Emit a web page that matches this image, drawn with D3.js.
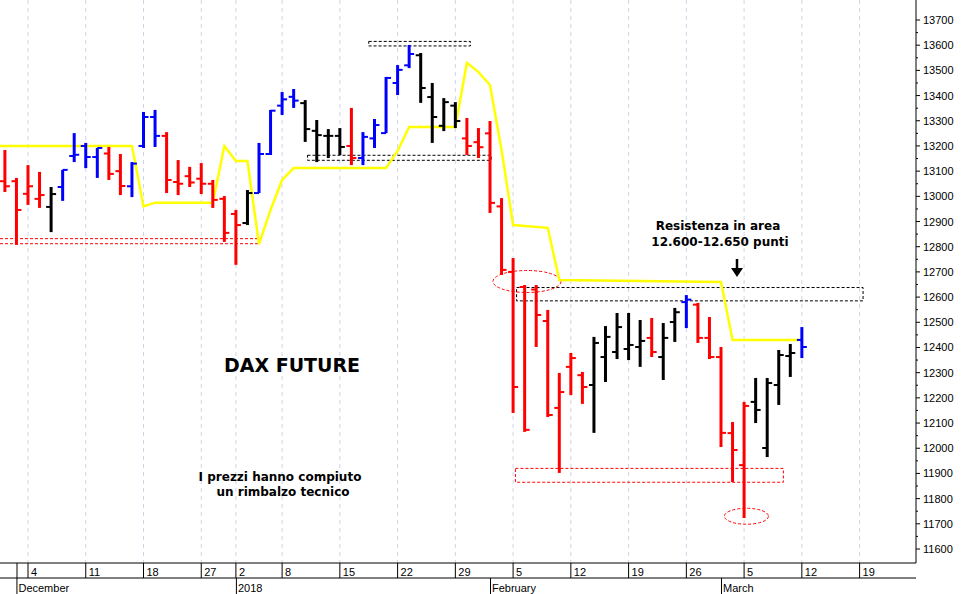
<!DOCTYPE html>
<html><head><meta charset="utf-8">
<script src="https://cdn.jsdelivr.net/npm/d3@7"></script>
<style>body{margin:0;background:#fff}svg{display:block}</style>
</head><body>
<svg id="c" width="966" height="594"></svg>
<script>
// trading day index (0 = Dec 4)
const idx   = [-2,-1,0,1,2,3,4,5,6,7,8,9,10,11,12,13,14,15,16,17,18,19,20,21,22,23,24,25,26,27,28,29,30,31,32,33,34,35,36,37,38,39,40,41,42,43,44,45,46,47,48,49,50,51,52,53,54,55,56,57,58,59,60,61,62,63,64,65,66,67];
const highs = [13184,13073,13124,13097,13037,13105,13251,13212,13192,13196,13168,13136,13335,13343,13255,13144,13117,13132,13065,13001,12946,13025,13212,13343,13414,13426,13382,13303,13267,13271,13351,13255,13307,13474,13521,13601,13569,13450,13390,13374,13311,13271,13299,12993,12755,12648,12648,12549,12299,12378,12303,12442,12485,12537,12537,12509,12517,12497,12557,12608,12577,12521,12402,12104,12184,12279,12279,12390,12414,12481];
const lows  = [13017,12807,12966,12954,12858,12982,13136,13112,13073,13065,13005,12997,13192,13196,13013,13005,13037,13009,12954,12819,12728,12886,13013,13164,13323,13351,13216,13136,13152,13164,13124,13124,13192,13251,13402,13509,13371,13212,13259,13271,13164,13152,12934,12688,12140,12065,12402,12124,11902,12211,12176,12061,12263,12354,12350,12323,12362,12271,12422,12477,12418,12354,12005,11866,11723,12100,11965,12172,12283,12358];
const opens = [13060,13060,13010,12990,12958,13037,13160,13200,13156,13170,13100,13040,13200,13315,13240,13057,13080,13070,13050,12990,12930,12894,13013,13168,13360,13395,13370,13260,13240,13240,13200,13152,13230,13251,13450,13520,13560,13394,13280,13360,13230,13215,13250,12960,12700,12640,12630,12505,12160,12323,12290,12251,12362,12382,12394,12402,12438,12362,12501,12580,12570,12438,12362,12060,11933,12184,12001,12251,12366,12430];
const closes= [13040,12946,13040,13005,13009,13105,13165,13156,13192,13089,13041,13130,13315,13240,13065,13050,13055,13050,12986,12855,12886,13013,13168,13340,13385,13380,13267,13243,13240,13196,13152,13236,13283,13470,13502,13565,13430,13315,13374,13299,13200,13195,12974,12708,12243,12073,12529,12132,12223,12358,12243,12418,12442,12481,12410,12426,12382,12438,12540,12590,12438,12362,12061,11993,12168,12152,12259,12370,12378,12402];
const colors= ["r","r","r","r","k","b","b","b","b","r","r","b","b","b","r","r","r","r","r","r","r","k","b","b","b","b","k","k","k","k","r","b","b","b","b","b","k","k","k","k","r","r","r","r","r","r","r","r","r","r","r","k","k","k","k","k","r","k","k","b","r","r","r","r","r","k","k","k","k","b"];
const maIdx = [-3,9,10,11,16,17,18,19,20,21,22,23,31,32,33,37,38,39,40,41,42,45,46,60,61,67];
const maVal = [13200,13200,12960,12975,12975,13200,13140,13140,12810,12946,13065,13112,13112,13180,13275,13275,13530,13493,13442,13184,12886,12875,12668,12660,12430,12430];
const dayTicks = [0,5,10,15,18,22,27,32,37,42,47,52,57,62,67,72];
const dayLabels = ["4","11","18","27","2","8","15","22","29","5","12","19","26","5","12","19"];
const monthTicks = [-1,18,40,60];
const monthLabels = ["December","2018","February","March"];
const yTicks = d3.range(11600,13701,100);

const svg = d3.select("#c");
const W=916, H=563;
const x = d3.scaleLinear().domain([0,72]).range([28,28+72*11.55]);
const y = d3.scaleLinear().domain([11600,13700]).range([549,20]);
const col = {r:"#ff0000",b:"#0000ff",k:"#000000"};
const font = "Liberation Sans, Arial, sans-serif";

svg.append("g").selectAll("line").data(dayTicks).join("line")
 .attr("x1",d=>x(d)).attr("x2",d=>x(d)).attr("y1",0).attr("y2",H)
 .attr("stroke","#d0d4e8").attr("stroke-dasharray","4,4");

const ann = svg.append("g").attr("fill","none").attr("stroke-width",1).attr("stroke-dasharray","3,2");
[12832,12812].forEach(v=>ann.append("line").attr("x1",0).attr("x2",260).attr("y1",y(v)).attr("y2",y(v)).attr("stroke","#ff0000"));
const rect=(xa,xb,va,vb,c)=>ann.append("rect").attr("x",xa).attr("width",xb-xa).attr("y",y(va)).attr("height",y(vb)-y(va)).attr("stroke",c);
rect(x(29.5),x(38.3),13615,13597,"#000");
rect(x(24.2),x(40.1),13163,13143,"#000");
rect(x(42.3),x(72.3),12638,12585,"#000");
rect(x(42.2),x(65.4),11920,11865,"#ff0000");
ann.append("ellipse").attr("cx",x(43.2)).attr("cy",y(12662)).attr("rx",34).attr("ry",11).attr("stroke","#ff0000");
ann.append("ellipse").attr("cx",x(62.2)).attr("cy",y(11730)).attr("rx",22).attr("ry",8).attr("stroke","#ff0000");

svg.append("path").datum(maIdx.map((d,i)=>[d,maVal[i]]))
 .attr("d",d3.line().x(d=>x(d[0])).y(d=>y(d[1])))
 .attr("fill","none").attr("stroke","#ffff00").attr("stroke-width",2.5);

const bars = svg.append("g").selectAll("g").data(idx.map((d,i)=>i)).join("g")
 .attr("stroke",i=>col[colors[i]]).attr("stroke-width",3);
bars.append("line").attr("x1",i=>x(idx[i])).attr("x2",i=>x(idx[i])).attr("y1",i=>y(highs[i])).attr("y2",i=>y(lows[i]));
bars.append("line").attr("x1",i=>x(idx[i])-5).attr("x2",i=>x(idx[i])).attr("y1",i=>y(opens[i])).attr("y2",i=>y(opens[i])).attr("stroke-width",2);
bars.append("line").attr("x1",i=>x(idx[i])).attr("x2",i=>x(idx[i])+5).attr("y1",i=>y(closes[i])).attr("y2",i=>y(closes[i])).attr("stroke-width",2);

svg.append("line").attr("x1",737).attr("x2",737).attr("y1",259).attr("y2",270).attr("stroke","#000").attr("stroke-width",2.5);
svg.append("path").attr("d","M731,268 L743,268 L737,277 Z").attr("fill","#000");

const t=(tx,ty,s,sz)=>svg.append("text").attr("x",tx).attr("y",ty).attr("text-anchor","middle").attr("font-family","Verdana, DejaVu Sans, sans-serif").attr("font-weight","bold").attr("font-size",sz).text(s);
t(718,230,"Resistenza in area",12);
t(720,246,"12.600-12.650 punti",12);
t(292,372,"DAX FUTURE",19);
t(280,481,"I prezzi hanno compiuto",12);
t(283,496,"un rimbalzo tecnico",12);

const ax = svg.append("g");
ax.append("line").attr("x1",W).attr("x2",W).attr("y1",0).attr("y2",H).attr("stroke","#000");
ax.selectAll(".yt").data(yTicks).join("line").attr("x1",W).attr("x2",W+4).attr("y1",d=>y(d)).attr("y2",d=>y(d)).attr("stroke","#000");
ax.selectAll(".ytm").data(d3.range(11650,13700,100)).join("line").attr("x1",W).attr("x2",W+2).attr("y1",d=>y(d)).attr("y2",d=>y(d)).attr("stroke","#000");
ax.selectAll("text").data(yTicks).join("text").attr("x",W+7).attr("y",d=>y(d)+4)
 .attr("font-family",font).attr("font-size",11).text(d=>d);

ax.append("line").attr("x1",0).attr("x2",W).attr("y1",H).attr("y2",H).attr("stroke","#000");
ax.append("line").attr("x1",0).attr("x2",W).attr("y1",578).attr("y2",578).attr("stroke","#000");
const dt = svg.append("g");
dt.selectAll("line").data(dayTicks).join("line").attr("x1",d=>x(d)).attr("x2",d=>x(d)).attr("y1",H).attr("y2",578).attr("stroke","#000");
dt.append("line").attr("x1",17).attr("x2",17).attr("y1",H).attr("y2",578).attr("stroke","#000");
dt.selectAll("text").data(dayTicks).join("text").attr("x",d=>x(d)+3).attr("y",576)
 .attr("font-family",font).attr("font-size",11).text((d,i)=>dayLabels[i]);
const mt = svg.append("g");
mt.selectAll("line").data(monthTicks).join("line").attr("x1",d=>x(d)+0.5).attr("x2",d=>x(d)+0.5).attr("y1",578).attr("y2",594).attr("stroke","#000");
mt.selectAll("text").data(monthTicks).join("text").attr("x",d=>x(d)+2).attr("y",592)
 .attr("font-family",font).attr("font-size",11).text((d,i)=>monthLabels[i]);
</script>
</body></html>
